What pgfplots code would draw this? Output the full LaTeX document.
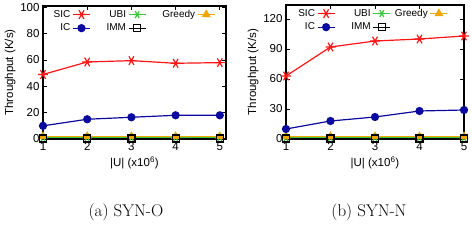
\documentclass[border=0pt]{standalone}
\usepackage{fontspec}
\usepackage{pgfplots}
\pgfplotsset{compat=1.18}
\newfontfamily\plotfont{Liberation Sans}

\definecolor{sicred}{RGB}{255,20,20}
\definecolor{icblue}{RGB}{10,10,160}
\definecolor{ubigreen}{RGB}{60,200,60}
\definecolor{greedyorange}{RGB}{240,165,0}

\pgfplotsset{
  thrstyle/.style={
    scale only axis,
    axis line style={black, line width=1.4pt},
    tick style={black, line width=0.8pt},
    tick align=inside,
    major tick length=4pt,
    xtick={1,2,3,4,5},
    xmin=1,
    /pgf/number format/assume math mode=true,
    tick label style={font=\plotfont\fontsize{11.5}{13}\selectfont},
    label style={font=\plotfont\fontsize{11.5}{13}\selectfont},
    xlabel={|U| (x10\textsuperscript{6})},
    ylabel={Throughput (K/s)},
    xlabel style={yshift=1pt},
    ylabel style={yshift=-2pt},
    legend style={
      anchor=north west, draw=none, fill=none,
      font=\plotfont\fontsize{10}{11}\selectfont,
      legend columns=3,
      row sep=1pt,
    },
    legend cell align=right,
    legend plot pos=right,
    every axis plot/.append style={line width=1.2pt},
  },
  sic/.style={sicred, mark=asterisk, mark size=5pt, mark options={rotate=90, line width=1.2pt}},
  ic/.style={icblue, mark=*, mark size=3.5pt},
  ubi/.style={ubigreen, mark=asterisk, mark size=4pt, mark options={rotate=90, line width=1.2pt}},
  imm/.style={black, mark=square, mark size=3.5pt, mark options={line width=1.2pt}},
  greedy/.style={greedyorange, mark=triangle*, mark size=4pt},
}

\begin{document}
\begin{tikzpicture}[x=1pt,y=1pt]
\useasboundingbox (0,0) rectangle (472,240);

% SYN-O
\begin{axis}[thrstyle,
  at={(43pt,101pt)}, anchor=south west,
  width=183pt, height=133pt,
  xmax=5.14, ymin=0, ymax=101,
  ytick={0,20,40,60,80,100},
  legend style={at={(0.03,1.0)},
    /tikz/column 2/.style={column sep=14pt},
    /tikz/column 4/.style={column sep=14pt}},
]
\addplot[sic] coordinates {(1,49) (2,58.5) (3,59.5) (4,57.5) (5,58)};
\addlegendentry{SIC}
\addplot[ubi] coordinates {(1,1.2) (2,1.2) (3,1.2) (4,1.2) (5,1.2)};
\addlegendentry{UBI}
\addplot[greedy] coordinates {(1,2) (2,2) (3,2) (4,2) (5,2)};
\addlegendentry{Greedy}
\addplot[ic] coordinates {(1,10) (2,15) (3,16.5) (4,18) (5,18)};
\addlegendentry{IC}
\addplot[imm] coordinates {(1,0.4) (2,0.4) (3,0.4) (4,0.4) (5,0.4)};
\addlegendentry{IMM}
\end{axis}

% SYN-N
\begin{axis}[thrstyle,
  at={(286pt,101pt)}, anchor=south west,
  width=178pt, height=134pt,
  xmax=5, ymin=0, ymax=134,
  ytick={0,30,60,90,120},
  legend style={at={(0.04,1.0)},
    /tikz/column 2/.style={column sep=14pt},
    /tikz/column 4/.style={column sep=2pt}},
]
\addplot[sic] coordinates {(1,63) (2,92) (3,98) (4,100) (5,103)};
\addlegendentry{SIC}
\addplot[ubi] coordinates {(1,1.5) (2,1.5) (3,1.5) (4,1.5) (5,1.5)};
\addlegendentry{UBI}
\addplot[greedy] coordinates {(1,2.5) (2,2.5) (3,2.5) (4,2.5) (5,2.5)};
\addlegendentry{Greedy}
\addplot[ic] coordinates {(1,10) (2,18) (3,22) (4,28) (5,29)};
\addlegendentry{IC}
\addplot[imm] coordinates {(1,0.5) (2,0.5) (3,0.5) (4,0.5) (5,0.5)};
\addlegendentry{IMM}
\end{axis}

\node[font=\fontsize{17}{20}\selectfont] at (126,28) {(a) SYN-O};
\node[font=\fontsize{17}{20}\selectfont] at (369,28) {(b) SYN-N};
\end{tikzpicture}
\end{document}
